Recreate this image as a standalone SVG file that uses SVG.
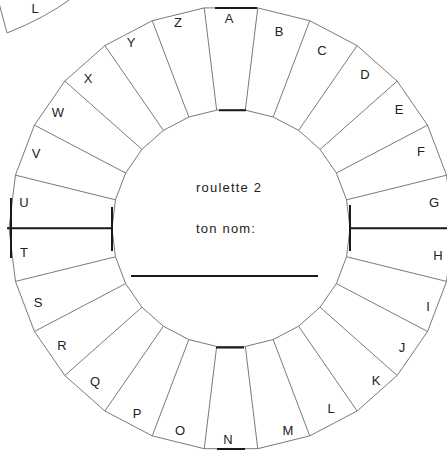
<svg xmlns="http://www.w3.org/2000/svg" width="447" height="453" viewBox="0 0 447 453">
<style>
.g{fill:none;stroke:#7a7a7a;stroke-width:1}
.k{fill:none;stroke:#1a1a1a;stroke-width:2}
.lb{font-family:"Liberation Sans",Arial,sans-serif;font-size:13px;fill:#222;text-anchor:middle}
.ct{font-family:"Liberation Sans",Arial,sans-serif;font-size:13px;fill:#222;letter-spacing:1.2px}
</style>
<rect width="447" height="453" fill="#fff"/>
<g id="other-roulette">
<path class="g" d="M7 33 Q45 18 72 -2"/>
<path class="g" d="M7 33 L-1 3"/>
<text class="lb" x="35" y="13">L</text>
</g>
<g id="ring" transform="translate(231 228.3)">
<polygon class="g" points="26.76,-220.38 78.72,-207.57 126.11,-182.70 166.17,-147.21 196.57,-103.17 215.55,-53.13 222,0 215.55,53.13 196.57,103.17 166.17,147.21 126.11,182.70 78.72,207.57 26.76,220.38 -26.76,220.38 -78.72,207.57 -126.11,182.70 -166.17,147.21 -196.57,103.17 -215.55,53.13 -222,0 -215.55,-53.13 -196.57,-103.17 -166.17,-147.21 -126.11,-182.70 -78.72,-207.57 -26.76,-220.38"/>
<polygon class="g" points="14.34,-118.13 42.20,-111.27 67.60,-97.93 89.07,-78.91 105.37,-55.30 115.54,-28.48 119,0 115.54,28.48 105.37,55.30 89.07,78.91 67.60,97.93 42.20,111.27 14.34,118.13 -14.34,118.13 -42.20,111.27 -67.60,97.93 -89.07,78.91 -105.37,55.30 -115.54,28.48 -119,0 -115.54,-28.48 -105.37,-55.30 -89.07,-78.91 -67.60,-97.93 -42.20,-111.27 -14.34,-118.13"/>
<g id="connectors">
<path class="g" d="M14.34,-118.13L26.76,-220.38M42.20,-111.27L78.72,-207.57M67.60,-97.93L126.11,-182.70M89.07,-78.91L166.17,-147.21M105.37,-55.30L196.57,-103.17M115.54,-28.48L215.55,-53.13M115.54,28.48L215.55,53.13M105.37,55.30L196.57,103.17M89.07,78.91L166.17,147.21M67.60,97.93L126.11,182.70M42.20,111.27L78.72,207.57M14.34,118.13L26.76,220.38M-14.34,118.13L-26.76,220.38M-42.20,111.27L-78.72,207.57M-67.60,97.93L-126.11,182.70M-89.07,78.91L-166.17,147.21M-105.37,55.30L-196.57,103.17M-115.54,28.48L-215.55,53.13M-115.54,-28.48L-215.55,-53.13M-105.37,-55.30L-196.57,-103.17M-89.07,-78.91L-166.17,-147.21M-67.60,-97.93L-126.11,-182.70M-42.20,-111.27L-78.72,-207.57M-14.34,-118.13L-26.76,-220.38"/>
</g>
</g>
<g id="cut-lines">
<path class="k" d="M215 8H257M219 110.2H246M216 347.5H244M217 449H245"/>
<path class="k" d="M11 198V258M7 228.3H112M112 207V251"/>
<path class="k" d="M350 205V251M350 228.3H447"/>
</g>
<g id="labels">
<text class="lb" x="229" y="23">A</text>
<text class="lb" x="279" y="36">B</text>
<text class="lb" x="322" y="55">C</text>
<text class="lb" x="365" y="79">D</text>
<text class="lb" x="399" y="114">E</text>
<text class="lb" x="421" y="156">F</text>
<text class="lb" x="434" y="207">G</text>
<text class="lb" x="438" y="260">H</text>
<text class="lb" x="428" y="311">I</text>
<text class="lb" x="402" y="352">J</text>
<text class="lb" x="376" y="385">K</text>
<text class="lb" x="331" y="413">L</text>
<text class="lb" x="288" y="435">M</text>
<text class="lb" x="228" y="444">N</text>
<text class="lb" x="180" y="435">O</text>
<text class="lb" x="137" y="418">P</text>
<text class="lb" x="95" y="386">Q</text>
<text class="lb" x="62" y="350">R</text>
<text class="lb" x="38" y="307">S</text>
<text class="lb" x="24" y="257">T</text>
<text class="lb" x="24" y="207">U</text>
<text class="lb" x="36" y="158">V</text>
<text class="lb" x="58" y="117">W</text>
<text class="lb" x="88" y="83">X</text>
<text class="lb" x="131" y="47">Y</text>
<text class="lb" x="178" y="27">Z</text>
</g>
<g id="center">
<text class="ct" x="196" y="192">roulette 2</text>
<text class="ct" x="196" y="233">ton nom:</text>
<path class="k" d="M131 276H318" stroke-width="1.6"/>
</g>
</svg>
